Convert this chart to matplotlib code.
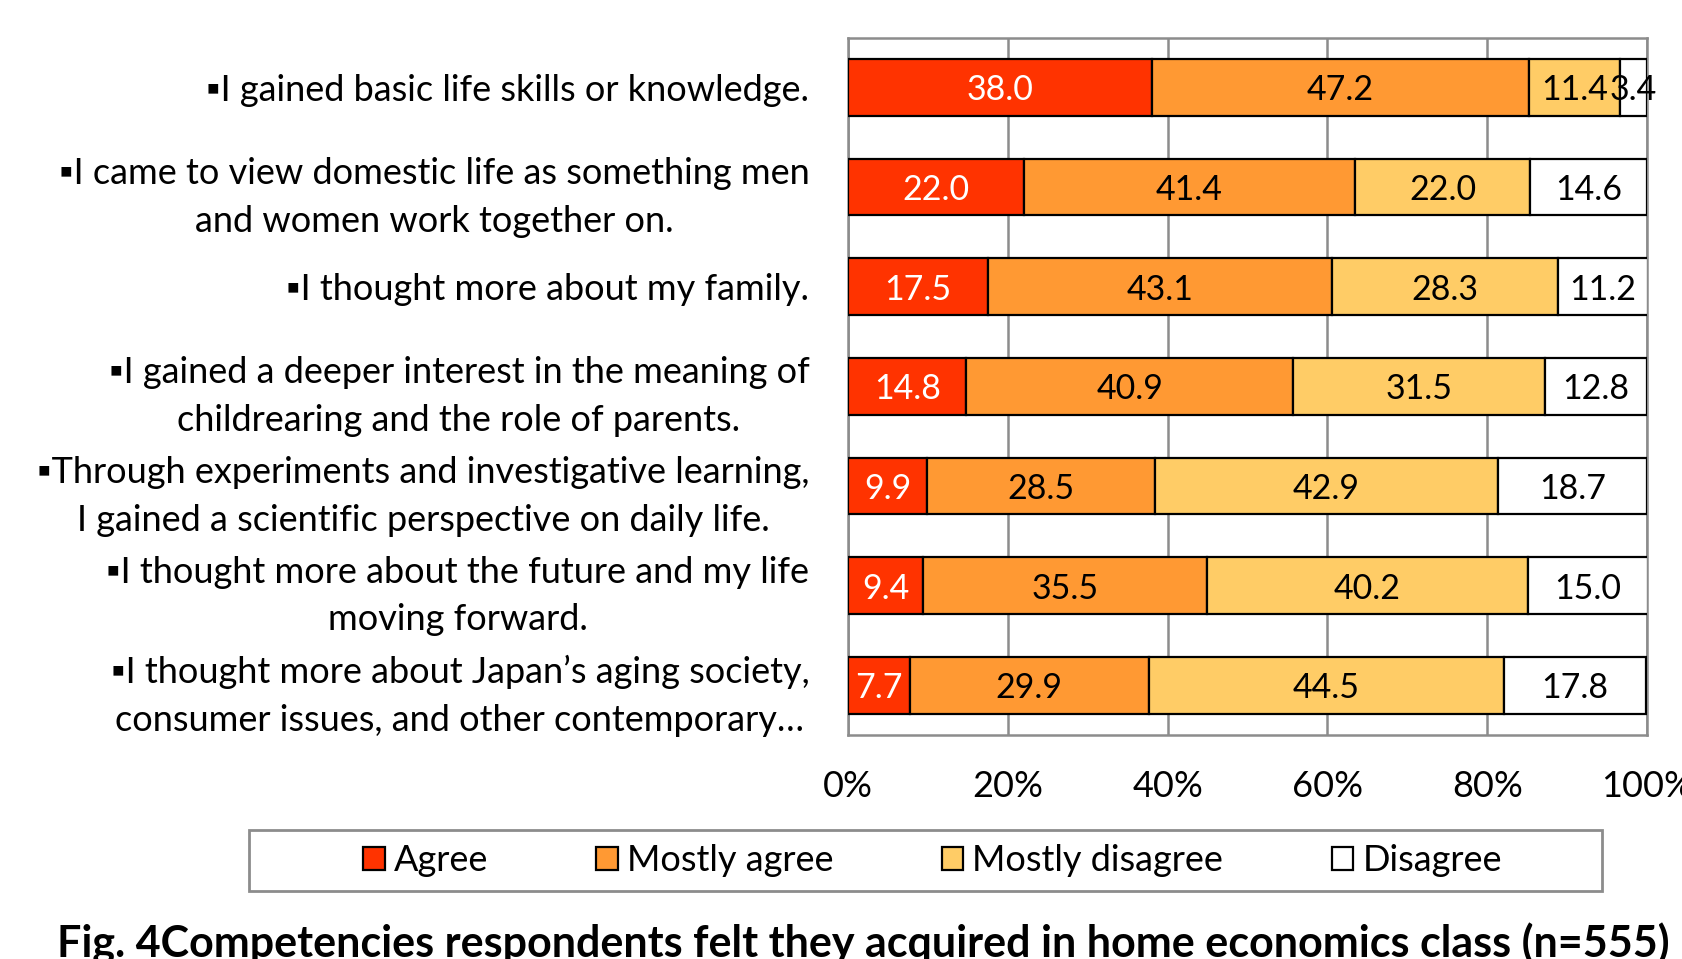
import matplotlib.pyplot as plt
from matplotlib.patches import Patch, Rectangle

plt.rcParams['font.family'] = ['Lato', 'DejaVu Sans']

statements = [
    "▪I gained basic life skills or knowledge.",
    "▪I came to view domestic life as something men\nand women work together on.",
    "▪I thought more about my family.",
    "▪I gained a deeper interest in the meaning of\nchildrearing and the role of parents.",
    "▪Through experiments and investigative learning,\nI gained a scientific perspective on daily life.",
    "▪I thought more about the future and my life\nmoving forward.",
    "▪I thought more about Japan’s aging society,\nconsumer issues, and other contemporary…",
]
responses = ["Agree", "Mostly agree", "Mostly disagree", "Disagree"]
agree = [38.0, 22.0, 17.5, 14.8, 9.9, 9.4, 7.7]
mostly_agree = [47.2, 41.4, 43.1, 40.9, 28.5, 35.5, 29.9]
mostly_disagree = [11.4, 22.0, 28.3, 31.5, 42.9, 40.2, 44.5]
disagree = [3.4, 14.6, 11.2, 12.8, 18.7, 15.0, 17.8]
xticks = [0, 20, 40, 60, 80, 100]

colors = ["#ff3300", "#ff9933", "#ffcc66", "#ffffff"]
text_colors = ["white", "black", "black", "black"]
fs = 26

fig = plt.figure(figsize=(16.83, 9.59), dpi=100)
ax = fig.add_axes([0.504, 0.2336, 0.4746, 0.7272])

y = list(range(len(statements)))
left = [0.0] * len(statements)
for series, col, tcol in zip([agree, mostly_agree, mostly_disagree, disagree],
                             colors, text_colors):
    bars = ax.barh(y, series, left=left, height=0.57, color=col,
                   edgecolor="black", linewidth=1.6, zorder=3)
    for b, v in zip(bars, series):
        ax.text(b.get_x() + b.get_width() / 2, b.get_y() + b.get_height() / 2 + 0.03,
                f"{v:.1f}", ha="center", va="center", color=tcol,
                fontsize=24.5, zorder=4, clip_on=False)
    left = [l + v for l, v in zip(left, series)]

ax.set_xlim(0, 100)
ax.set_ylim(len(statements) - 0.5, -0.5)
ax.set_xticks(xticks)
ax.set_xticklabels([f"{t}%" for t in xticks], fontsize=fs)
ax.set_yticks(y)
ax.set_yticklabels(statements, fontsize=fs, multialignment="center",
                   linespacing=1.55)
ax.tick_params(axis="x", length=0, pad=25)
ax.tick_params(axis="y", length=0, pad=28)
ax.grid(axis="x", color="#8c8c8c", linewidth=1.8, zorder=0)
for s in ax.spines.values():
    s.set_color("#8c8c8c")
    s.set_linewidth(1.8)

handles = [Patch(facecolor=c, edgecolor="black", linewidth=1.6) for c in colors]
fig.legend(handles, responses, loc="center", bbox_to_anchor=(0.554, 0.1027),
           ncol=4, frameon=False, fontsize=fs, handlelength=0.6,
           handleheight=0.6, handletextpad=0.25, columnspacing=3.0)
fig.patches.append(Rectangle((0.148, 0.0709), 0.804, 0.0636,
                             transform=fig.transFigure, fill=False,
                             edgecolor="#8c8c8c", linewidth=2))

fig.text(0.513, 0.016,
         "Fig. 4Competencies respondents felt they acquired in home economics class (n=555)",
         ha="center", va="center", fontsize=31, fontweight="bold")

fig.savefig("out.png", dpi=100)
